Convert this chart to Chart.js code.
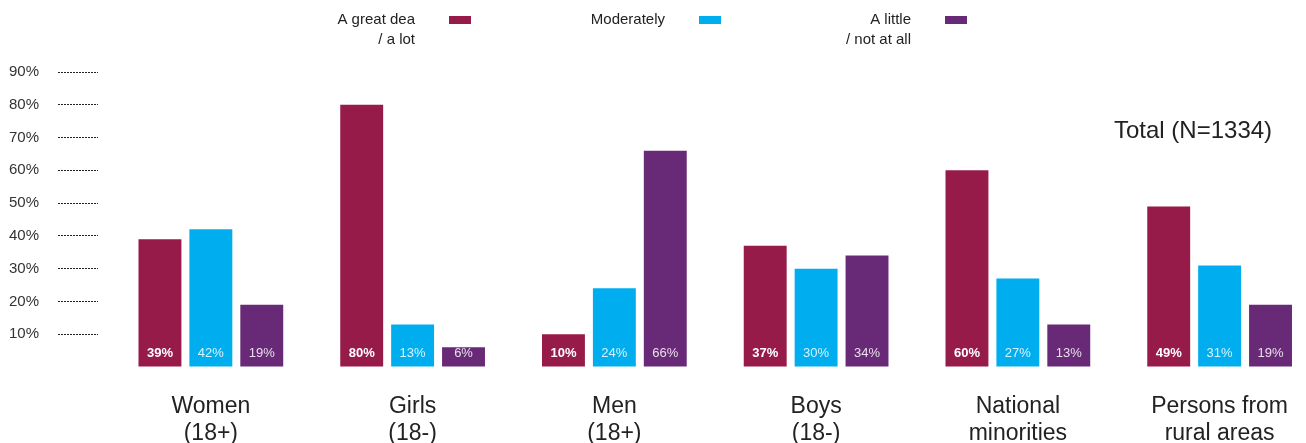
<!DOCTYPE html>
<html>
<head>
<meta charset="utf-8">
<script src="https://cdn.jsdelivr.net/npm/chart.js@4"></script>
<style>
  html, body { margin: 0; padding: 0; background: #fff; overflow: hidden; }
  #wrap { width: 1306px; height: 443px; position: relative; }
</style>
</head>
<body>
<div id="wrap"><canvas id="chart"></canvas></div>
<script>
const categories = [['Women', '(18+)'], ['Girls', '(18-)'], ['Men', '(18+)'], ['Boys', '(18-)'], ['National', 'minorities'], ['Persons from', 'rural areas']];
const greatDeal = [39, 80, 10, 37, 60, 49];
const moderately = [42, 13, 24, 30, 27, 31];
const aLittle = [19, 6, 66, 34, 13, 19];
const seriesNames = [['A great dea', '/ a lot'], ['Moderately'], ['A little', '/ not at all']];
const yTicks = [10, 20, 30, 40, 50, 60, 70, 80, 90];
const totalNote = 'Total (N=1334)';

const colors = ['#971b48', '#00aeef', '#682a76'];
const FONT = '"Liberation Sans", Arial, sans-serif';

let toPoints = (arr) => arr.map((v, i) => ({ x: i, y: v }));

// labels inside the foot of each bar
let barLabels = {
    id: 'barLabels',
    afterDatasetsDraw(chart) {
        let ctx = chart.ctx;
        ctx.save();
        ctx.textAlign = 'center';
        ctx.textBaseline = 'middle';
        chart.data.datasets.forEach((ds, di) => {
            let meta = chart.getDatasetMeta(di);
            ctx.font = (di === 0 ? 'bold ' : '') + '13px ' + FONT;
            ctx.fillStyle = di === 0 ? '#ffffff' : 'rgba(255,255,255,0.85)';
            meta.data.forEach((bar, i) => {
                ctx.fillText(ds.data[i].y + '%', bar.x, bar.base - 13);
            });
        });
        ctx.restore();
    }
};

// legend on top: text right aligned, swatch right of it
let topLegend = {
    id: 'topLegend',
    afterDraw(chart) {
        let ctx = chart.ctx;
        let textRight = [415, 665, 911];
        ctx.save();
        ctx.font = '15px ' + FONT;
        ctx.textAlign = 'right';
        ctx.textBaseline = 'middle';
        chart.data.datasets.forEach((ds, di) => {
            ctx.fillStyle = '#222';
            seriesNames[di].forEach((line, li) => {
                ctx.fillText(line, textRight[di], 20 + li * 20);
            });
            ctx.fillStyle = ds.backgroundColor;
            ctx.fillRect(textRight[di] + 34, 16, 22, 8);
        });
        ctx.font = '24px ' + FONT;
        ctx.textAlign = 'left';
        ctx.fillStyle = '#222';
        ctx.fillText(totalNote, 1114, 131);
        ctx.restore();
    }
};

new Chart(document.getElementById('chart'), {
    type: 'bar',
    data: {
        datasets: [
            { label: seriesNames[0].join(' '), data: toPoints(greatDeal), backgroundColor: colors[0] },
            { label: seriesNames[1].join(' '), data: toPoints(moderately), backgroundColor: colors[1] },
            { label: seriesNames[2].join(' '), data: toPoints(aLittle), backgroundColor: colors[2] }
        ]
    },
    options: {
        responsive: true,
        maintainAspectRatio: false,
        animation: false,
        layout: { padding: { top: 72, right: 0, left: 0, bottom: 0 } },
        datasets: { bar: { categoryPercentage: 0.757, barPercentage: 0.843 } },
        plugins: { legend: { display: false }, tooltip: { enabled: false } },
        scales: {
            x: {
                type: 'linear',
                offset: false,
                min: -0.5594,
                max: 5.4026,
                grid: { display: false, offset: false },
                border: { display: false },
                afterFit: (s) => { s.height = 76; },
                ticks: {
                    stepSize: 1,
                    includeBounds: false,
                    autoSkip: false,
                    maxRotation: 0,
                    padding: 18,
                    color: '#222',
                    font: { family: FONT, size: 23, lineHeight: 1.18 },
                    callback: (v) => Number.isInteger(v) && categories[v] ? categories[v] : ''
                }
            },
            y: {
                min: 0,
                max: 90,
                afterFit: (s) => { s.width = 98; },
                afterBuildTicks: (s) => { s.ticks = [0].concat(yTicks).map(v => ({ value: v })); },
                border: { display: false },
                grid: {
                    drawOnChartArea: false,
                    drawTicks: true,
                    tickLength: 40,
                    tickWidth: 1,
                    tickBorderDash: [2, 1],
                    tickColor: (c) => c.tick && c.tick.value === 0 ? 'rgba(0,0,0,0)' : '#222'
                },
                ticks: {
                    padding: 19,
                    color: '#333',
                    font: { family: FONT, size: 15 },
                    callback: (v) => v === 0 ? '' : v + '%'
                }
            }
        }
    },
    plugins: [barLabels, topLegend]
});
</script>
</body>
</html>
